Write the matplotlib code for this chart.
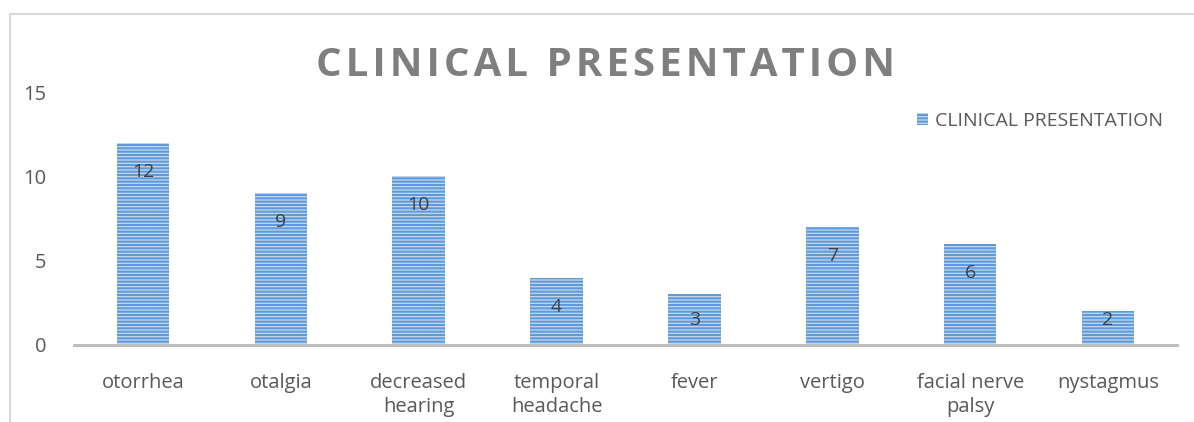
import matplotlib.pyplot as plt
from matplotlib.lines import Line2D

categories = ['otorrhea', 'otalgia', 'decreased\nhearing', 'temporal\nheadache',
              'fever', 'vertigo', 'facial nerve\npalsy', 'nystagmus']
counts = [12, 9, 10, 4, 3, 7, 6, 2]
yticks = [0, 5, 10, 15]

plt.rcParams['font.family'] = ['Open Sans', 'DejaVu Sans']
plt.rcParams['hatch.linewidth'] = 1.5

fig = plt.figure(figsize=(11.94, 4.22), dpi=100)
ax = fig.add_axes([74 / 1194, 77 / 422, 1103 / 1194, 253 / 422])

x = range(len(categories))
bars = ax.bar(x, counts, width=0.38, color='#c2daf3', edgecolor='#5f99d8',
              linewidth=0, hatch='-----', label='CLINICAL PRESENTATION')
for b, v in zip(bars, counts):
    # label sits just inside the bar top, but never below the bar's lower part
    ax.text(b.get_x() + b.get_width() / 2, max(v - 1.72, 1.48), str(v), ha='center',
            va='center', fontsize=14, color='#404040')

ax.set_xlim(-0.5, len(categories) - 0.5)
ax.set_ylim(0, 15)
ax.set_yticks(yticks)
ax.set_xticks(list(x))
ax.set_xticklabels(categories, fontsize=14.5, color='#595959', linespacing=1.3)
ax.tick_params(axis='y', labelsize=14.5, labelcolor='#595959', length=0, pad=20)
ax.tick_params(axis='x', length=0, pad=20)
for side in ['top', 'right', 'left']:
    ax.spines[side].set_visible(False)
ax.spines['bottom'].set_color('#bfbfbf')
ax.spines['bottom'].set_linewidth(2.2)

fig.text(606 / 1194, 1 - 65 / 422, '\u200a'.join('CLINICAL PRESENTATION'),
         ha='center', va='center', fontsize=29, fontweight='bold', color='#7f7f7f')

ax.legend(loc='center left', bbox_to_anchor=(899 / 1194, 1 - 121 / 422),
          bbox_transform=fig.transFigure, frameon=False, fontsize=14,
          labelcolor='#595959', handlelength=0.6, handleheight=0.6, handletextpad=0.35)

fig.add_artist(Line2D([10 / 1194, 10 / 1194, 1], [0, 1 - 14 / 422, 1 - 14 / 422],
                      transform=fig.transFigure, color='#d9d9d9', linewidth=1.5))

fig.savefig('out.png', dpi=100)
